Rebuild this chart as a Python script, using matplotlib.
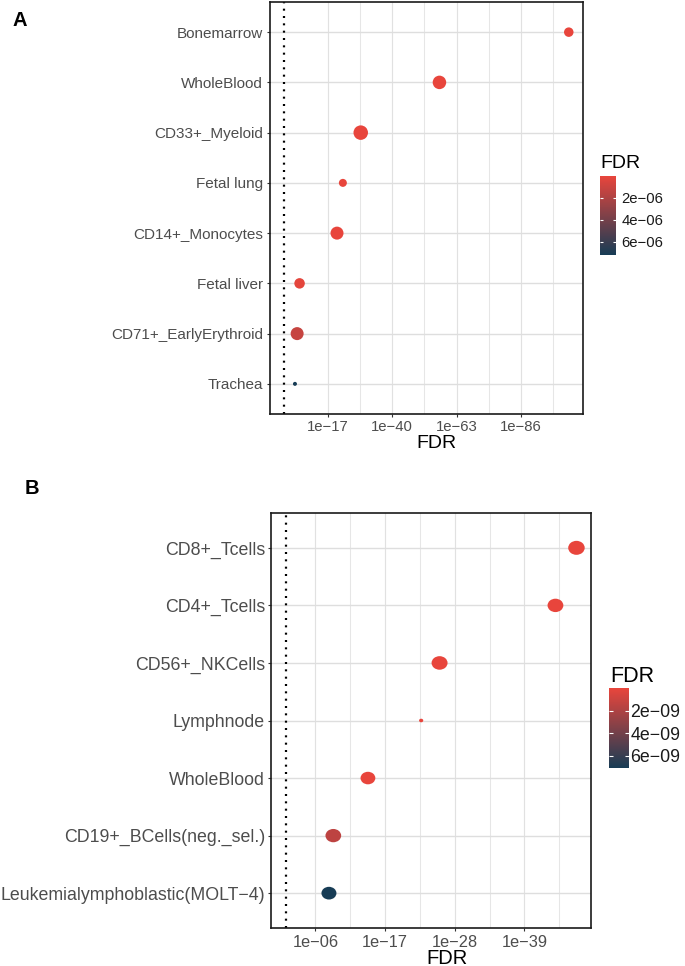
import numpy as np
import matplotlib
matplotlib.use("Agg")
import matplotlib.pyplot as plt
from matplotlib.colors import LinearSegmentedColormap, Normalize
from matplotlib.path import Path
import matplotlib.cm as cm

plt.rcParams['font.family'] = ['Liberation Sans', 'DejaVu Sans']

# ---------------- data ----------------
cells_A = ["Bonemarrow", "WholeBlood", "CD33+_Myeloid", "Fetal lung",
           "CD14+_Monocytes", "Fetal liver", "CD71+_EarlyErythroid", "Trachea"]
fdr_A = [6.3e-104, 1.3e-57, 2.0e-29, 5.0e-23, 6.3e-21, 1.6e-07, 1.2e-06, 7.2e-06]
dot_A = [9.5, 13.5, 14.5, 8.0, 13.0, 10.5, 13.0, 4.0]          # dot diameter scale
major_A = [17, 40, 63, 86]
minor_A = [28.5, 51.5, 74.5, 97.5]
xlabels_A = ["1e\u221217", "1e\u221240", "1e\u221263", "1e\u221286"]
cb_ticks_A = [2e-06, 4e-06, 6e-06]
cb_labels_A = ["2e\u221206", "4e\u221206", "6e\u221206"]

cells_B = ["CD8+_Tcells", "CD4+_Tcells", "CD56+_NKCells", "Lymphnode",
           "WholeBlood", "CD19+_BCells(neg._sel.)", "Leukemialymphoblastic(MOLT\u22124)"]
fdr_B = [6.3e-48, 1.3e-44, 2.5e-26, 2.0e-23, 5.0e-15, 1.45e-09, 7.1e-09]
dot_B = [16.5, 15.8, 16.0, 4.2, 14.8, 15.7, 15.0]
major_B = [6, 17, 28, 39]
minor_B = [11.5, 22.5, 33.5, 44.5]
xlabels_B = ["1e\u221206", "1e\u221217", "1e\u221228", "1e\u221239"]
cb_ticks_B = [2e-09, 4e-09, 6e-09]
cb_labels_B = ["2e\u221209", "4e\u221209", "6e\u221209"]

threshold = 0.05

# ---------------- figure ----------------
W, H = 685, 966
fig = plt.figure(figsize=(W / 100, H / 100), dpi=100)
cmap = LinearSegmentedColormap.from_list("fdr", ["#E8453C", "#173C55"])


def rect(x0, y0, x1, y1):
    return [x0 / W, 1 - y1 / H, (x1 - x0) / W, (y1 - y0) / H]


def panel(ax_rect, cells, fdr, dots, major, minor, xlabels, marker, ylab_size,
          xlab_size, ypad, xpad):
    ax = fig.add_axes(ax_rect)
    fdr = np.array(fdr)
    x = -np.log10(fdr)
    n = len(cells)
    y = np.arange(n, 0, -1)
    lo = -np.log10(threshold)
    hi = x.max()
    w = hi - lo
    ax.set_xlim(lo - 0.05 * w, hi + 0.05 * w)
    ax.set_ylim(0.4, n + 0.6)
    # grid
    for v in major:
        ax.axvline(v, color="#e1e1e1", lw=0.85, zorder=0)
    for v in minor:
        ax.axvline(v, color="#e6e6e6", lw=0.75, zorder=0)
    for v in y:
        ax.axhline(v, color="#dedede", lw=1.0, zorder=0)
    ax.axvline(lo, color="black", lw=1.6, ls=(0, (0.9, 2.4)), zorder=2)
    norm = Normalize(vmin=fdr.min(), vmax=fdr.max())
    s = (np.array(dots) * 0.72) ** 2
    ax.scatter(x, y, s=s, c=fdr, cmap=cmap, norm=norm, marker=marker,
               linewidths=0, zorder=3)
    ax.set_yticks(y)
    ax.set_yticklabels(cells)
    ax.set_xticks(major)
    ax.set_xticklabels(xlabels)
    ax.tick_params(axis="y", length=2.3, width=0.8, color="#333333",
                   labelcolor="#4d4d4d", labelsize=ylab_size, pad=ypad)
    ax.tick_params(axis="x", length=2.3, width=0.8, color="#333333",
                   labelcolor="#4d4d4d", labelsize=xlab_size, pad=xpad)
    for sp in ax.spines.values():
        sp.set_color("#1a1a1a")
        sp.set_linewidth(1.2)
    return norm


def cbar(cax_rect, norm, ticks, labels, size, pad, tlen):
    cax = fig.add_axes(cax_rect)
    sm = cm.ScalarMappable(norm=norm, cmap=cmap)
    sm.set_array([])
    cb = fig.colorbar(sm, cax=cax, orientation="vertical")
    cb.outline.set_visible(False)
    cax.invert_yaxis()
    cb.set_ticks(ticks)
    cb.set_ticklabels(labels)
    cax.tick_params(axis="y", direction="in", length=tlen, width=0.8,
                    color="white", left=True, right=True, labelleft=False,
                    labelright=True, labelcolor="#1a1a1a", labelsize=size,
                    pad=pad)
    cax.minorticks_off()


# Panel A
normA = panel(rect(270, 2, 583, 414), cells_A, fdr_A, dot_A, major_A, minor_A,
              xlabels_A, "o", 11, 10.7, 2.6, 2.2)
cbar(rect(600, 176, 616, 255), normA, cb_ticks_A, cb_labels_A, 10.7, 4.1, 2.4)
fig.text(12.5 / W, 1 - 21 / H, "A", fontsize=14.5, fontweight="bold",
         ha="left", va="center", color="black")
fig.text(436.7 / W, 1 - 443.5 / H, "FDR", fontsize=14, ha="center",
         va="center", color="black")
fig.text(600 / W, 1 - 163.3 / H, "FDR", fontsize=14, ha="left",
         va="center", color="black")

# Panel B (ellipse markers)
circ = Path.unit_circle()
ellipse = Path(circ.vertices * np.array([1.18, 1.0]), circ.codes)
normB = panel(rect(271, 513.3, 591, 927.7), cells_B, fdr_B, dot_B, major_B,
              minor_B, xlabels_B, ellipse, 12.8, 11.8, 2.0, 2.6)
cbar(rect(609.3, 688.3, 629.3, 768.3), normB, cb_ticks_B, cb_labels_B, 12.8,
     0.8, 2.6)
fig.text(25 / W, 1 - 488.5 / H, "B", fontsize=14.5, fontweight="bold",
         ha="left", va="center", color="black")
fig.text(447.5 / W, 1 - 958 / H, "FDR", fontsize=14.5, ha="center",
         va="center", color="black")
fig.text(610 / W, 1 - 676 / H, "FDR", fontsize=15.5, ha="left",
         va="center", color="black")

fig.savefig("out.png", dpi=100)
